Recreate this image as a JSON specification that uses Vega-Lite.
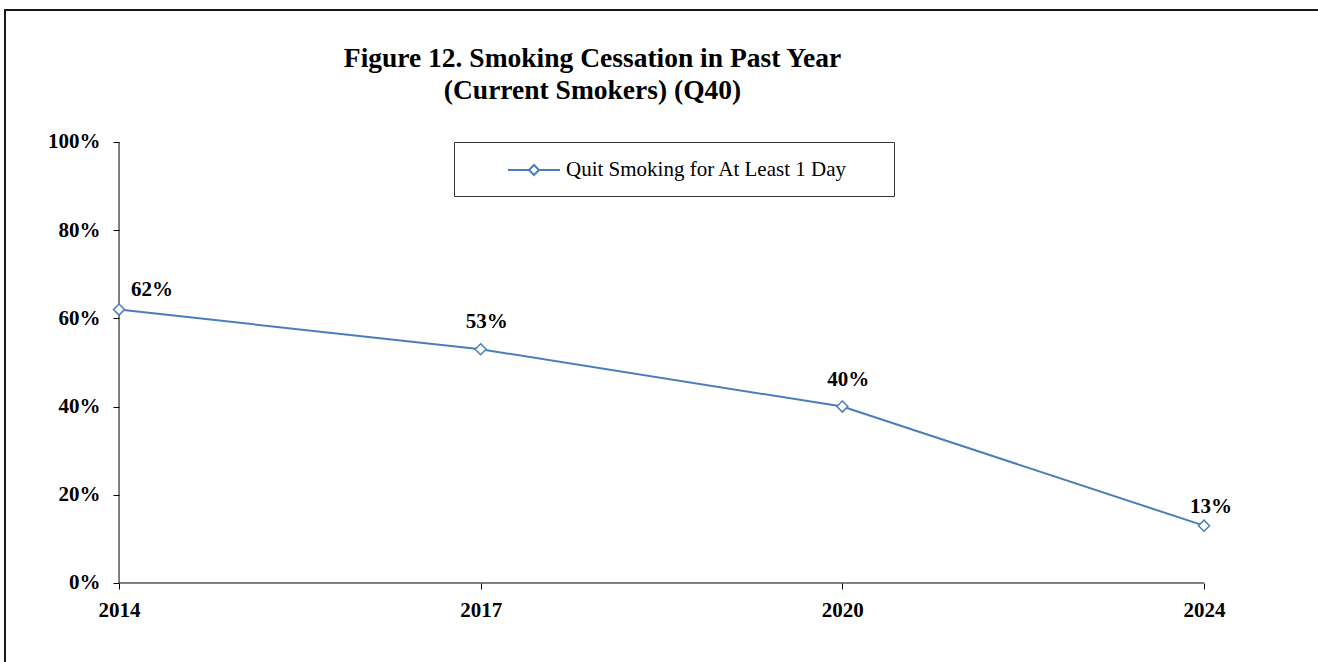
{
  "$schema": "https://vega.github.io/schema/vega-lite/v6.json",
  "width": 1315,
  "height": 654,
  "autosize": "none",
  "padding": {"left": 5, "top": 10, "right": -2, "bottom": -2},
  "background": "white",
  "config": {
    "view": {"stroke": "#1a1a1a", "strokeWidth": 2},
    "font": "Liberation Serif"
  },
  "title": {
    "text": ["Figure 12. Smoking Cessation in Past Year", "(Current Smokers) (Q40)"],
    "font": "Liberation Serif",
    "fontSize": 27.5,
    "fontWeight": "bold",
    "color": "black",
    "lineHeight": 32,
    "anchor": "middle",
    "frame": "group",
    "dx": -70,
    "dy": 98
  },
  "data": {
    "values": [
      {"year": "2014", "value": 62, "label": "62%", "series": "Quit Smoking for At Least 1 Day"},
      {"year": "2017", "value": 53, "label": "53%", "series": "Quit Smoking for At Least 1 Day"},
      {"year": "2020", "value": 40, "label": "40%", "series": "Quit Smoking for At Least 1 Day"},
      {"year": "2024", "value": 13, "label": "13%", "series": "Quit Smoking for At Least 1 Day"}
    ]
  },
  "encoding": {
    "x": {
      "field": "year",
      "type": "ordinal",
      "scale": {"type": "point", "padding": 0.318, "align": 0.4957},
      "axis": {
        "orient": "bottom",
        "offset": -81,
        "domain": false,
        "grid": false,
        "ticks": true,
        "tickSize": 6,
        "tickColor": "black",
        "labelAngle": 0,
        "labelFont": "Liberation Serif",
        "labelFontSize": 21,
        "labelFontWeight": "bold",
        "labelColor": "black",
        "labelPadding": 10,
        "title": null
      }
    },
    "y": {
      "field": "value",
      "type": "quantitative",
      "scale": {"domain": [-18.37, 129.93], "nice": false, "zero": false},
      "axis": {
        "orient": "left",
        "offset": -114,
        "domain": false,
        "grid": false,
        "values": [0, 20, 40, 60, 80, 100],
        "labelExpr": "datum.value + '%'",
        "tickSize": 6,
        "tickColor": "black",
        "labelFont": "Liberation Serif",
        "labelFontSize": 21,
        "labelFontWeight": "bold",
        "labelColor": "black",
        "labelPadding": 13,
        "title": null
      }
    }
  },
  "layer": [
    {
      "transform": [{"filter": "datum.year == '2014'"}],
      "mark": {"type": "rule", "color": "black", "strokeWidth": 1},
      "encoding": {
        "y": {"datum": 0},
        "y2": {"datum": 100}
      }
    },
    {
      "mark": {"type": "line", "color": "black", "strokeWidth": 1},
      "encoding": {
        "y": {"datum": 0}
      }
    },
    {
      "mark": {"type": "line", "strokeWidth": 2},
      "encoding": {
        "color": {
          "field": "series",
          "type": "nominal",
          "scale": {"range": ["#4A7EBB"]},
          "legend": {
            "orient": "none",
            "legendX": 449,
            "legendY": 132,
            "title": null,
            "padding": 16,
            "strokeColor": "#333333",
            "fillColor": "white",
            "labelFont": "Liberation Serif",
            "labelFontSize": 21,
            "labelColor": "black",
            "labelLimit": 0,
            "labelOffset": 72,
            "symbolType": "M2.364,0H4.273M5.182,0H7.091M4.273,0L4.727,-0.455L5.182,0L4.727,0.455ZM35.63,0",
            "symbolSize": 484,
            "symbolStrokeWidth": 2,
            "symbolFillColor": "white"
          }
        }
      }
    },
    {
      "mark": {"type": "point", "shape": "diamond", "size": 121, "filled": true, "fill": "white", "stroke": "#4A7EBB", "strokeWidth": 1.5, "opacity": 1}
    },
    {
      "transform": [{"filter": "datum.year == '2014'"}],
      "mark": {"type": "text", "align": "left", "baseline": "alphabetic", "dx": 12, "dy": -14, "font": "Liberation Serif", "fontSize": 21, "fontWeight": "bold", "color": "black"},
      "encoding": {"text": {"field": "label", "type": "nominal"}}
    },
    {
      "transform": [{"filter": "datum.year == '2017' || datum.year == '2020'"}],
      "mark": {"type": "text", "align": "center", "baseline": "alphabetic", "dx": 6, "dy": -21, "font": "Liberation Serif", "fontSize": 21, "fontWeight": "bold", "color": "black"},
      "encoding": {"text": {"field": "label", "type": "nominal"}}
    },
    {
      "transform": [{"filter": "datum.year == '2024'"}],
      "mark": {"type": "text", "align": "center", "baseline": "alphabetic", "dx": 7, "dy": -13, "font": "Liberation Serif", "fontSize": 21, "fontWeight": "bold", "color": "black"},
      "encoding": {"text": {"field": "label", "type": "nominal"}}
    }
  ]
}
